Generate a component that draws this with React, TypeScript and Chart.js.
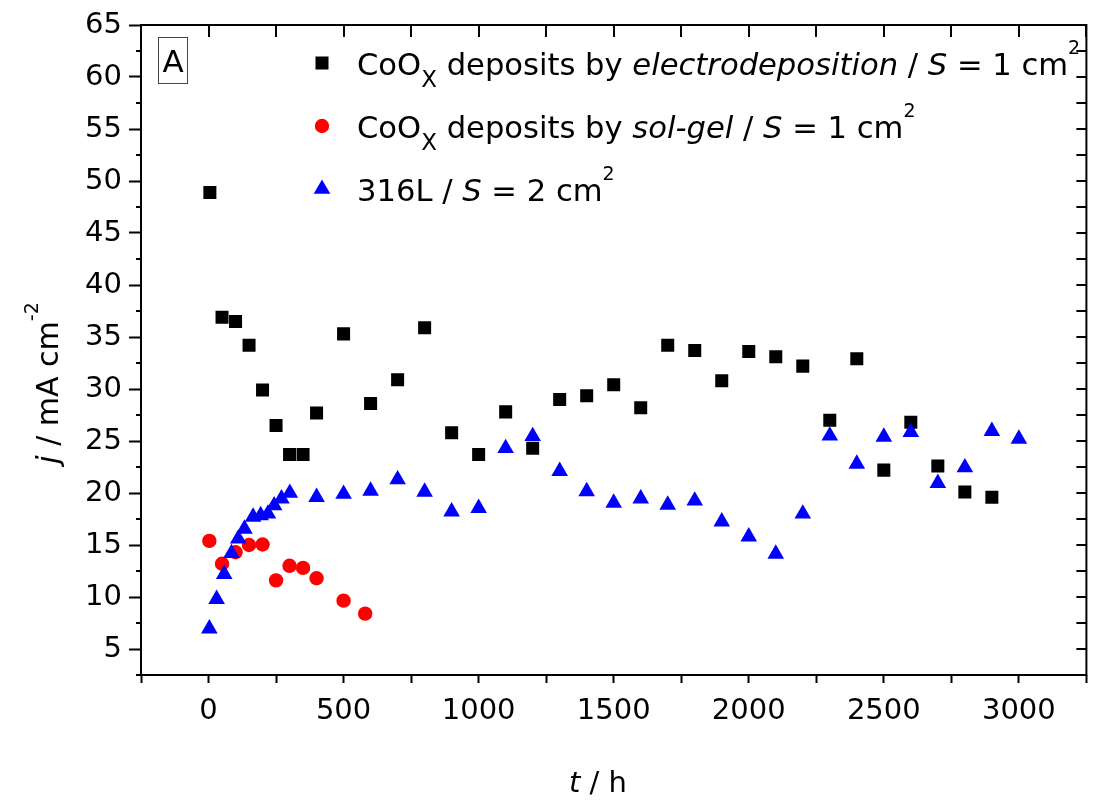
import React, { useEffect, useRef } from 'react';
import { Chart, registerables } from 'chart.js';

Chart.register(...registerables);

// ---- data (t in h, j in mA cm^-2) ----
const electroT = [5, 50, 100, 150, 200, 250, 300, 350, 400, 500, 600, 700, 800, 900, 1000, 1100, 1200, 1300, 1400, 1500, 1600, 1700, 1800, 1900, 2000, 2100, 2200, 2300, 2400, 2500, 2600, 2700, 2800, 2900];
const electroJ = [48.9, 36.9, 36.5, 34.2, 29.9, 26.5, 23.7, 23.7, 27.7, 35.3, 28.6, 30.9, 35.9, 25.8, 23.7, 27.8, 24.3, 29.0, 29.35, 30.4, 28.2, 34.2, 33.7, 30.8, 33.6, 33.1, 32.2, 27.0, 32.9, 22.2, 26.8, 22.6, 20.1, 19.6];

const solgelT = [3, 50, 100, 150, 200, 250, 300, 350, 400, 500, 580];
const solgelJ = [15.4, 13.2, 14.3, 15.0, 15.05, 11.6, 13.0, 12.8, 11.8, 9.65, 8.4];

const steelT = [3, 30, 58, 85, 110, 133, 165, 193, 220, 243, 270, 301, 400, 500, 600, 700, 800, 900, 1000, 1100, 1200, 1300, 1400, 1500, 1600, 1700, 1800, 1900, 2000, 2100, 2200, 2300, 2400, 2500, 2600, 2700, 2800, 2900, 3000];
const steelJ = [6.95, 9.8, 12.2, 14.2, 15.6, 16.55, 17.7, 17.85, 18.0, 18.8, 19.45, 20.0, 19.6, 19.9, 20.2, 21.3, 20.1, 18.2, 18.55, 24.3, 25.45, 22.1, 20.15, 19.05, 19.45, 18.85, 19.25, 17.25, 15.8, 14.15, 18.0, 25.5, 22.8, 25.4, 25.85, 20.95, 22.45, 25.95, 25.2];

// ---- axes ----
const xTickValues = [-250, 0, 250, 500, 750, 1000, 1250, 1500, 1750, 2000, 2250, 2500, 2750, 3000, 3250];
const xLabelValues = [0, 500, 1000, 1500, 2000, 2500, 3000];
const yMajorValues = [5, 10, 15, 20, 25, 30, 35, 40, 45, 50, 55, 60, 65];
const yMinorValues = [2.5, 7.5, 12.5, 17.5, 22.5, 27.5, 32.5, 37.5, 42.5, 47.5, 52.5, 57.5, 62.5];

const FONT = '"DejaVu Sans", "Liberation Sans", Arial, sans-serif';

const SQ_R = 9.2;
const CI_R = 7.2;
const TR_R = 9.6;

type Run = { text: string; italic?: boolean; size?: number; dy?: number };

function runsWidth(ctx: CanvasRenderingContext2D, runs: Run[], base: number) {
  let w = 0;
  for (const r of runs) {
    ctx.font = `${r.italic ? 'italic ' : ''}${r.size ?? base}px ${FONT}`;
    w += ctx.measureText(r.text).width;
  }
  return w;
}

function drawRuns(ctx: CanvasRenderingContext2D, runs: Run[], x: number, y: number, base: number) {
  let cx = x;
  for (const r of runs) {
    ctx.font = `${r.italic ? 'italic ' : ''}${r.size ?? base}px ${FONT}`;
    ctx.fillText(r.text, cx, y + (r.dy ?? 0));
    cx += ctx.measureText(r.text).width;
  }
}

const legendRows: { runs: Run[]; style: string; color: string }[] = [
  {
    style: 'rect', color: '#000000',
    runs: [
      { text: 'CoO' }, { text: 'X', size: 23, dy: 12 }, { text: ' deposits by ' },
      { text: 'electrodeposition', italic: true }, { text: ' / ' }, { text: 'S', italic: true },
      { text: ' = 1 cm' }, { text: '2', size: 19, dy: -21 },
    ],
  },
  {
    style: 'circle', color: '#ff0000',
    runs: [
      { text: 'CoO' }, { text: 'X', size: 23, dy: 12 }, { text: ' deposits by ' },
      { text: 'sol-gel', italic: true }, { text: ' / ' }, { text: 'S', italic: true },
      { text: ' = 1 cm' }, { text: '2', size: 19, dy: -21 },
    ],
  },
  {
    style: 'triangle', color: '#0000ff',
    runs: [
      { text: '316L / ' }, { text: 'S', italic: true }, { text: ' = 2 cm' }, { text: '2', size: 19, dy: -21 },
    ],
  },
];

function drawMarker(ctx: CanvasRenderingContext2D, style: string, x: number, y: number, color: string) {
  ctx.fillStyle = color;
  ctx.beginPath();
  if (style === 'rect') {
    const h = SQ_R * Math.SQRT1_2;
    ctx.rect(x - h, y - h, 2 * h, 2 * h);
  } else if (style === 'circle') {
    ctx.arc(x, y, CI_R, 0, Math.PI * 2);
  } else {
    const r = TR_R;
    ctx.moveTo(x, y - r);
    ctx.lineTo(x + r * Math.sin((2 * Math.PI) / 3), y + r / 2);
    ctx.lineTo(x - r * Math.sin((2 * Math.PI) / 3), y + r / 2);
    ctx.closePath();
  }
  ctx.fill();
}

const framePlugin = {
  id: 'framePlugin',
  afterDraw(chart: any) {
    const { ctx, chartArea } = chart;
    const { left, right, top, bottom } = chartArea;
    const xs = chart.scales.x;
    const ys = chart.scales.y;
    ctx.save();
    ctx.strokeStyle = '#000';
    ctx.lineWidth = 2;
    ctx.strokeRect(left, top, right - left, bottom - top);

    ctx.beginPath();
    // left minor ticks (outward)
    for (const v of yMinorValues) {
      const y = Math.round(ys.getPixelForValue(v));
      ctx.moveTo(left - 5, y);
      ctx.lineTo(left, y);
    }
    // right ticks (inward)
    for (const v of [...yMajorValues, ...yMinorValues]) {
      const y = Math.round(ys.getPixelForValue(v));
      ctx.moveTo(right - 10, y);
      ctx.lineTo(right, y);
    }
    // top ticks (inward)
    for (const v of xTickValues) {
      const x = Math.round(xs.getPixelForValue(v));
      ctx.moveTo(x, top);
      ctx.lineTo(x, top + 12);
    }
    ctx.stroke();

    // panel label "A"
    ctx.lineWidth = 1;
    ctx.strokeStyle = '#444';
    ctx.strokeRect(left + 17.5, top + 12.5, 29, 46);
    ctx.fillStyle = '#000';
    ctx.font = `31px ${FONT}`;
    ctx.textAlign = 'center';
    ctx.textBaseline = 'alphabetic';
    ctx.fillText('A', left + 32, top + 47);

    // legend
    ctx.textAlign = 'left';
    legendRows.forEach((row, i) => {
      const base = top + 50 + i * 63;
      drawMarker(ctx, row.style, left + 181, base - 12, row.color);
      ctx.fillStyle = '#000';
      drawRuns(ctx, row.runs, left + 216, base, 30.6);
    });

    // x-axis title
    const xRuns: Run[] = [{ text: 't', italic: true }, { text: ' / h' }];
    const xw = runsWidth(ctx, xRuns, 29);
    drawRuns(ctx, xRuns, 598 - xw / 2, 792, 29);

    // y-axis title (rotated)
    const yRuns: Run[] = [{ text: 'j', italic: true }, { text: ' / mA cm' }, { text: '-2', size: 19, dy: -20 }];
    const yw = runsWidth(ctx, yRuns, 30);
    ctx.translate(58, 383);
    ctx.rotate(-Math.PI / 2);
    drawRuns(ctx, yRuns, -yw / 2, 0, 30);
    ctx.restore();
  },
};

export default function App() {
  const canvasRef = useRef<HTMLCanvasElement | null>(null);

  useEffect(() => {
    if (!canvasRef.current) return;
    const toPts = (t: number[], j: number[]) => t.map((v, i) => ({ x: v, y: j[i] }));
    const chart = new Chart(canvasRef.current, {
      type: 'scatter',
      data: {
        datasets: [
          {
            label: 'CoOx deposits by electrodeposition / S = 1 cm2',
            data: toPts(electroT, electroJ),
            pointStyle: 'rect',
            pointRadius: SQ_R,
            backgroundColor: '#000000',
            borderColor: '#000000',
            borderWidth: 0,
            order: 3,
          },
          {
            label: 'CoOx deposits by sol-gel / S = 1 cm2',
            data: toPts(solgelT, solgelJ),
            pointStyle: 'circle',
            pointRadius: CI_R,
            backgroundColor: '#ff0000',
            borderColor: '#ff0000',
            borderWidth: 0,
            order: 2,
          },
          {
            label: '316L / S = 2 cm2',
            data: toPts(steelT, steelJ),
            pointStyle: 'triangle',
            pointRadius: TR_R,
            backgroundColor: '#0000ff',
            borderColor: '#0000ff',
            borderWidth: 0,
            order: 1,
          },
        ],
      },
      options: {
        animation: false,
        responsive: true,
        maintainAspectRatio: false,
        events: [],
        layout: { padding: { top: 25, right: 5, left: 0, bottom: 0 } },
        plugins: {
          legend: { display: false },
          tooltip: { enabled: false },
          title: { display: false },
        },
        scales: {
          x: {
            type: 'linear',
            min: -250,
            max: 3250,
            afterBuildTicks: (s: any) => {
              s.ticks = xTickValues.map((v) => ({ value: v }));
            },
            afterFit: (s: any) => {
              s.height = 134;
              s.paddingLeft = 0;
              s.paddingRight = 0;
            },
            border: { display: false },
            grid: {
              display: true,
              drawOnChartArea: false,
              drawTicks: true,
              tickLength: 8,
              tickWidth: 2,
              tickColor: '#000',
            },
            ticks: {
              autoSkip: false,
              maxRotation: 0,
              minRotation: 0,
              padding: 11,
              color: '#000',
              font: { family: FONT, size: 29 },
              callback: (v: any) => (xLabelValues.includes(Number(v)) ? String(v) : ''),
            },
          },
          y: {
            type: 'linear',
            min: 2.5,
            max: 65,
            afterBuildTicks: (s: any) => {
              s.ticks = yMajorValues.map((v) => ({ value: v }));
            },
            afterFit: (s: any) => {
              s.width = 141;
              s.paddingTop = 0;
              s.paddingBottom = 0;
            },
            border: { display: false },
            grid: {
              display: true,
              drawOnChartArea: false,
              drawTicks: true,
              tickLength: 12,
              tickWidth: 2,
              tickColor: '#000',
            },
            ticks: {
              autoSkip: false,
              padding: 7,
              color: '#000',
              font: { family: FONT, size: 29 },
              callback: (v: any) => String(v),
            },
          },
        },
      },
      plugins: [framePlugin],
    });
    return () => chart.destroy();
  }, []);

  return (
    <div style={{ position: 'absolute', left: 0, top: 0, width: '1096px', height: '809px', background: '#fff' }}>
      <canvas ref={canvasRef} />
    </div>
  );
}
